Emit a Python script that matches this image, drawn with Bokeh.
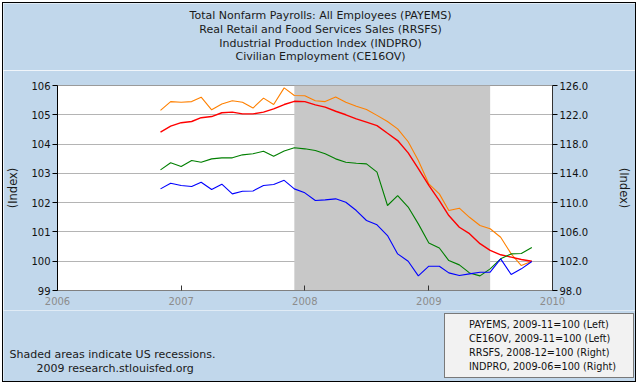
import pandas as pd
from bokeh.plotting import figure
from bokeh.layouts import column
from bokeh.models import (Range1d, LinearAxis, FixedTicker, DatetimeTickFormatter,
                          NumeralTickFormatter, BoxAnnotation, Label, Legend, LegendItem)
from bokeh.embed import file_html
from bokeh.resources import INLINE

# ---------------- data ----------------
months = pd.date_range("2006-11-01", "2009-11-01", freq="MS")

payems = [104.41, 104.61, 104.73, 104.77, 104.90, 104.94, 105.07, 105.09, 105.03, 105.03,
          105.09, 105.20, 105.35, 105.46, 105.45, 105.34, 105.26, 105.12, 105.00, 104.86,
          104.75, 104.63, 104.37, 104.12, 103.70, 103.16, 102.59, 102.07, 101.56, 101.16,
          100.94, 100.60, 100.37, 100.22, 100.14, 100.06, 100.00]

ce16ov = [105.15, 105.45, 105.43, 105.45, 105.60, 105.17, 105.37, 105.48, 105.43, 105.23,
          105.57, 105.35, 105.92, 105.66, 105.65, 105.48, 105.45, 105.61, 105.43, 105.29,
          105.18, 104.98, 104.77, 104.52, 104.08, 103.44, 102.64, 102.30, 101.73, 101.81,
          101.50, 101.22, 101.11, 100.82, 100.25, 99.85, 100.00]

rrsfs = [111.88, 112.66, 112.34, 112.20, 112.79, 111.79, 112.52, 111.20, 111.56, 111.60,
         112.34, 112.48, 113.05, 111.88, 111.34, 110.29, 110.38, 110.52, 110.06, 108.92,
         107.56, 106.97, 105.51, 103.00, 102.00, 100.00, 101.32, 101.32, 100.41, 100.04,
         100.27, 100.50, 100.50, 102.32, 100.18, 100.96, 101.96]

indpro = [114.48, 115.44, 114.93, 115.75, 115.52, 115.98, 116.12, 116.12, 116.53, 116.67,
          117.03, 116.34, 117.05, 117.49, 117.35, 117.12, 116.67, 115.98, 115.52, 115.39,
          115.30, 114.16, 109.61, 110.97, 109.40, 107.10, 104.50, 103.80, 102.09, 101.50,
          100.40, 100.00, 100.96, 102.32, 103.00, 103.05, 103.87]

recession_start = pd.Timestamp("2007-12-01")
recession_end = pd.Timestamp("2009-07-01")

title_lines = ["Total Nonfarm Payrolls: All Employees (PAYEMS)",
               "Real Retail and Food Services Sales (RRSFS)",
               "Industrial Production Index (INDPRO)",
               "Civilian Employment (CE16OV)"]

legend_labels = ["PAYEMS, 2009-11=100 (Left)",
                 "CE16OV, 2009-11=100 (Left)",
                 "RRSFS, 2008-12=100 (Right)",
                 "INDPRO, 2009-06=100 (Right)"]

left_ticks = [99, 100, 101, 102, 103, 104, 105, 106]
right_ticks = [98, 102, 106, 110, 114, 118, 122, 126]
year_ticks = ["2006-01-01", "2007-01-01", "2008-01-01", "2009-01-01", "2010-01-01"]

note_lines = ["Shaded areas indicate US recessions.", "2009 research.stlouisfed.org"]
axis_title = "(Index)"

# ---------------- styling ----------------
FONT = "DejaVu Sans"
BG = "#C1D7EB"
TXT = "#1A1A1A"
C_PAY, C_CE, C_RR, C_IND = "#FF0000", "#FF8000", "#0000FF", "#007F00"
W = 632


def strip(h):
    f = figure(width=W, height=h, x_range=Range1d(0, 1), y_range=Range1d(0, 1),
               output_backend="svg", toolbar_location=None, min_border=0,
               x_axis_location=None, y_axis_location=None)
    f.frame_align = False
    f.xgrid.visible = False
    f.ygrid.visible = False
    f.outline_line_color = None
    f.background_fill_color = BG
    f.border_fill_color = BG
    return f


# ---------------- top strip: titles ----------------
top = strip(67)
for t, yy in zip(title_lines, [55, 41.5, 27.5, 14]):
    top.add_layout(Label(x=317, y=yy, x_units="screen", y_units="screen", text=t,
                         text_align="center", text_baseline="middle", text_font=FONT,
                         text_font_size="11px", text_color=TXT))

# ---------------- main chart ----------------
x_start = pd.Timestamp(year_ticks[0])
x_end = pd.Timestamp(year_ticks[-1])

p = figure(width=W, height=240, x_axis_type="datetime",
           x_range=Range1d(x_start, x_end), y_range=Range1d(left_ticks[0], left_ticks[-1]),
           output_backend="svg", toolbar_location=None,
           min_border_left=50, min_border_right=83, min_border_top=15, min_border_bottom=20)
p.frame_align = False
p.border_fill_color = BG
p.background_fill_color = "white"
p.outline_line_color = "#9A9A9A"

p.extra_y_ranges = {"right": Range1d(right_ticks[0], right_ticks[-1])}

xax = p.xaxis[0]
xax.ticker = FixedTicker(ticks=[pd.Timestamp(t).timestamp() * 1000 for t in year_ticks])
xax.formatter = DatetimeTickFormatter(years="%Y", months="%Y", days="%Y", hours="%Y")
xax.major_tick_in = 5
xax.major_tick_out = 0
xax.minor_tick_line_color = None
xax.axis_line_color = "#808080"
xax.major_tick_line_color = "#333333"
xax.major_label_text_font = FONT
xax.major_label_text_font_size = "10px"
xax.major_label_text_color = "#8C8C8C"
xax.major_label_standoff = 6

yax = p.yaxis[0]
yax.ticker = FixedTicker(ticks=left_ticks)
yax.major_tick_in = 0
yax.major_tick_out = 5
yax.minor_tick_line_color = None
yax.axis_line_color = "black"
yax.major_tick_line_color = "black"
yax.major_label_text_font = FONT
yax.major_label_text_font_size = "10px"
yax.major_label_text_color = "#111111"
yax.major_label_standoff = 2
yax.axis_label = axis_title
yax.axis_label_text_font = FONT
yax.axis_label_text_font_size = "11.5px"
yax.axis_label_text_font_style = "normal"
yax.axis_label_text_color = TXT
yax.axis_label_standoff = 8

rax = LinearAxis(y_range_name="right", ticker=FixedTicker(ticks=right_ticks),
                 formatter=NumeralTickFormatter(format="0.0"))
rax.major_tick_in = 0
rax.major_tick_out = 5
rax.minor_tick_line_color = None
rax.axis_line_color = "#333333"
rax.major_tick_line_color = "black"
rax.major_label_text_font = FONT
rax.major_label_text_font_size = "10px"
rax.major_label_text_color = "#111111"
rax.major_label_standoff = 2
rax.axis_label = axis_title
rax.axis_label_text_font = FONT
rax.axis_label_text_font_size = "11.5px"
rax.axis_label_text_font_style = "normal"
rax.axis_label_text_color = TXT
rax.axis_label_standoff = 26
p.add_layout(rax, "right")

p.xgrid.visible = False
p.ygrid.ticker = FixedTicker(ticks=left_ticks)
p.ygrid.grid_line_color = "#B4B4B4"

p.add_layout(BoxAnnotation(left=recession_start, right=recession_end,
                           fill_color="#C8C8C8", fill_alpha=1.0, line_color=None,
                           level="underlay"))

p.line(months, ce16ov, line_color=C_CE, line_width=1.1)
p.line(months, payems, line_color=C_PAY, line_width=1.4)
p.line(months, indpro, line_color=C_IND, line_width=1.1, y_range_name="right")
p.line(months, rrsfs, line_color=C_RR, line_width=1.1, y_range_name="right")

# ---------------- bottom strip: notes + legend ----------------
bot = strip(71)
bot.add_layout(Label(x=6, y=27, x_units="screen", y_units="screen", text=note_lines[0],
                     text_align="left", text_baseline="middle", text_font=FONT,
                     text_font_size="11px", text_color=TXT))
bot.add_layout(Label(x=33, y=13, x_units="screen", y_units="screen", text=note_lines[1],
                     text_align="left", text_baseline="middle", text_font=FONT,
                     text_font_size="11px", text_color=TXT))

leg_r = [bot.line(x=[], y=[], line_color=c, line_width=3) for c in [C_PAY, C_CE, C_RR, C_IND]]
legend = Legend(items=[LegendItem(label=l, renderers=[r]) for l, r in zip(legend_labels, leg_r)],
                location=(441, 3), border_line_color="black", border_line_width=1,
                background_fill_color="#F2F2F2", background_fill_alpha=1.0,
                label_text_font=FONT, label_text_font_size="9.7px", label_text_color="#111111",
                glyph_width=9, glyph_height=10, label_height=10, label_width=159,
                spacing=3, padding=5, margin=0, label_standoff=10)
bot.add_layout(legend)

layout = column(top, p, bot, spacing=0,
                styles={"border": "1px solid black", "margin": "2px 0 0 2px",
                        "box-sizing": "content-box"})
open("out.html", "w").write(file_html(layout, INLINE))
